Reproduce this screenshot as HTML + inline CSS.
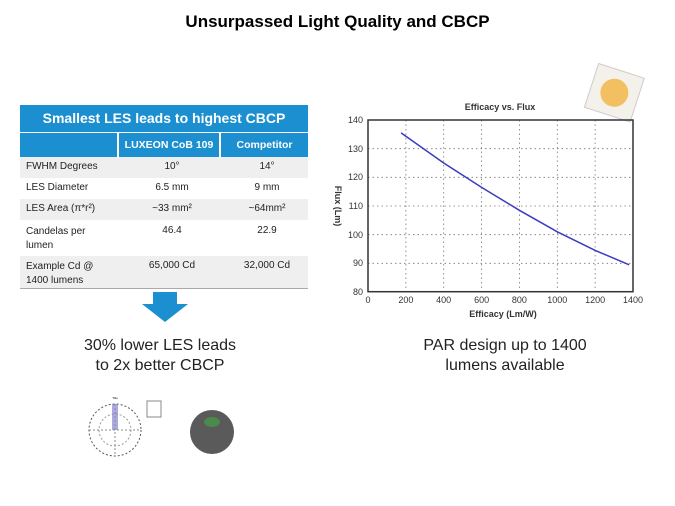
<!DOCTYPE html><html><head><style>
body{margin:0;width:675px;height:506px;background:#fff;font-family:"Liberation Sans",sans-serif;position:relative;overflow:hidden}
.a{position:absolute}
table{border-collapse:collapse;font-size:10px;color:#222}
td{padding:0 0 0 6px;vertical-align:top}
</style></head><body>
<div class="a" style="left:0;top:12px;width:675px;text-align:center;font-weight:bold;font-size:17px">Unsurpassed Light Quality and CBCP</div>
<div class="a" style="left:20px;top:105px;width:288px;height:27px;background:#1b8fd0;color:#fff;font-weight:bold;font-size:14px;text-align:center;line-height:27px">Smallest LES leads to highest CBCP</div>
<div class="a" style="left:20px;top:133px;width:97px;height:24px;background:#1b8fd0"></div>
<div class="a" style="left:119px;top:133px;width:100px;height:24px;background:#1b8fd0;color:#fff;font-weight:bold;font-size:10.5px;text-align:center;line-height:24px">LUXEON CoB 109</div>
<div class="a" style="left:221px;top:133px;width:87px;height:24px;background:#1b8fd0;color:#fff;font-weight:bold;font-size:10.5px;text-align:center;line-height:24px">Competitor</div>
<table class="a" style="left:20px;top:157px;width:288px">
<tr style="background:#efefef;height:21px"><td style="width:92px;padding-top:4px">FWHM Degrees</td><td style="text-align:center;width:96px;padding-top:4px">10°</td><td style="text-align:center;padding-top:4px">14°</td></tr>
<tr style="height:21px"><td style="padding-top:4px">LES Diameter</td><td style="text-align:center;padding-top:4px">6.5 mm</td><td style="text-align:center;padding-top:4px">9 mm</td></tr>
<tr style="background:#efefef;height:21px"><td style="padding-top:4px">LES Area (π*r²)</td><td style="text-align:center;padding-top:4px">~33 mm²</td><td style="text-align:center;padding-top:4px">~64mm²</td></tr>
<tr style="height:36px"><td style="padding-top:5px;line-height:14px">Candelas per<br>lumen</td><td style="text-align:center;padding-top:5px">46.4</td><td style="text-align:center;padding-top:5px">22.9</td></tr>
<tr style="background:#efefef;height:32px"><td style="padding-top:4px;line-height:14px">Example Cd @<br>1400 lumens</td><td style="text-align:center;padding-top:4px">65,000 Cd</td><td style="text-align:center;padding-top:4px">32,000 Cd</td></tr>
</table>
<div class="a" style="left:20px;top:288px;width:288px;height:1px;background:#aaa"></div>
<svg class="a" style="left:140px;top:292px" width="50" height="32"><polygon points="13,0 37,0 37,12 48,12 25,30 2,12 13,12" fill="#1b8fd0"/></svg>
<div class="a" style="left:40px;top:336px;width:240px;text-align:center;font-size:16px;line-height:20px;color:#222">30% lower LES leads<br>to 2x better CBCP</div>
<div class="a" style="left:385px;top:336px;width:240px;text-align:center;font-size:16px;line-height:20px;color:#222">PAR design up to 1400<br>lumens available</div>
<svg class="a" style="left:80px;top:390px" width="170" height="70">
<circle cx="35" cy="40" r="26" fill="none" stroke="#555" stroke-dasharray="2 2"/><circle cx="35" cy="40" r="16" fill="none" stroke="#999" stroke-dasharray="2 2"/>
<line x1="9" y1="40" x2="61" y2="40" stroke="#888" stroke-dasharray="2 2"/><line x1="35" y1="14" x2="35" y2="66" stroke="#888" stroke-dasharray="2 2"/>
<rect x="32" y="14" width="6" height="26" fill="#8888cc" opacity=".7"/>
<rect x="67" y="11" width="14" height="16" fill="#fff" stroke="#888"/>
<text x="35" y="9" font-size="3" text-anchor="middle">Title</text>
<circle cx="132" cy="42" r="22" fill="#5a5a5a"/><ellipse cx="132" cy="32" rx="8" ry="5" fill="#4a8a4a"/>
</svg>
<svg class="a" style="left:580px;top:62px" width="70" height="65"><g transform="rotate(18 35 32)"><rect x="10" y="8" width="48" height="46" fill="#f4f1ea" stroke="#ccc"/><circle cx="34" cy="31" r="14" fill="#f2c060"/></g></svg>
<svg class="a" style="left:320px;top:95px" width="330" height="235" font-family="Liberation Sans" font-size="9" fill="#333">
<text x="180" y="15" text-anchor="middle" font-weight="bold" font-size="9">Efficacy vs. Flux</text>
<g stroke="#777" stroke-dasharray="1.5 3" stroke-width=".8">
<line x1="85.9" y1="25" x2="85.9" y2="196.7"/><line x1="123.7" y1="25" x2="123.7" y2="196.7"/><line x1="161.6" y1="25" x2="161.6" y2="196.7"/><line x1="199.4" y1="25" x2="199.4" y2="196.7"/><line x1="237.3" y1="25" x2="237.3" y2="196.7"/><line x1="275.1" y1="25" x2="275.1" y2="196.7"/>
<line x1="48" y1="53.7" x2="313" y2="53.7"/><line x1="48" y1="82.3" x2="313" y2="82.3"/><line x1="48" y1="111" x2="313" y2="111"/><line x1="48" y1="139.7" x2="313" y2="139.7"/><line x1="48" y1="168.3" x2="313" y2="168.3"/></g>
<rect x="48" y="25" width="265" height="171.7" fill="none" stroke="#333" stroke-width="1.5"/>
<polyline fill="none" stroke="#3b3bc0" stroke-width="1.5" points="81.1,37.9 123.7,68 161.6,92.4 199.4,115.3 237.3,136.8 275.2,155.4 309.2,169.8"/>
<g text-anchor="end"><text x="43" y="28">140</text><text x="43" y="57">130</text><text x="43" y="85">120</text><text x="43" y="114">110</text><text x="43" y="143">100</text><text x="43" y="171">90</text><text x="43" y="200">80</text></g>
<g text-anchor="middle"><text x="48" y="208">0</text><text x="85.9" y="208">200</text><text x="123.7" y="208">400</text><text x="161.6" y="208">600</text><text x="199.4" y="208">800</text><text x="237.3" y="208">1000</text><text x="275.1" y="208">1200</text><text x="313" y="208">1400</text>
<text x="183" y="222" font-weight="bold">Efficacy (Lm/W)</text>
<text transform="translate(15 111) rotate(90)" font-weight="bold">Flux (Lm)</text></g>
</svg>
</body></html>
